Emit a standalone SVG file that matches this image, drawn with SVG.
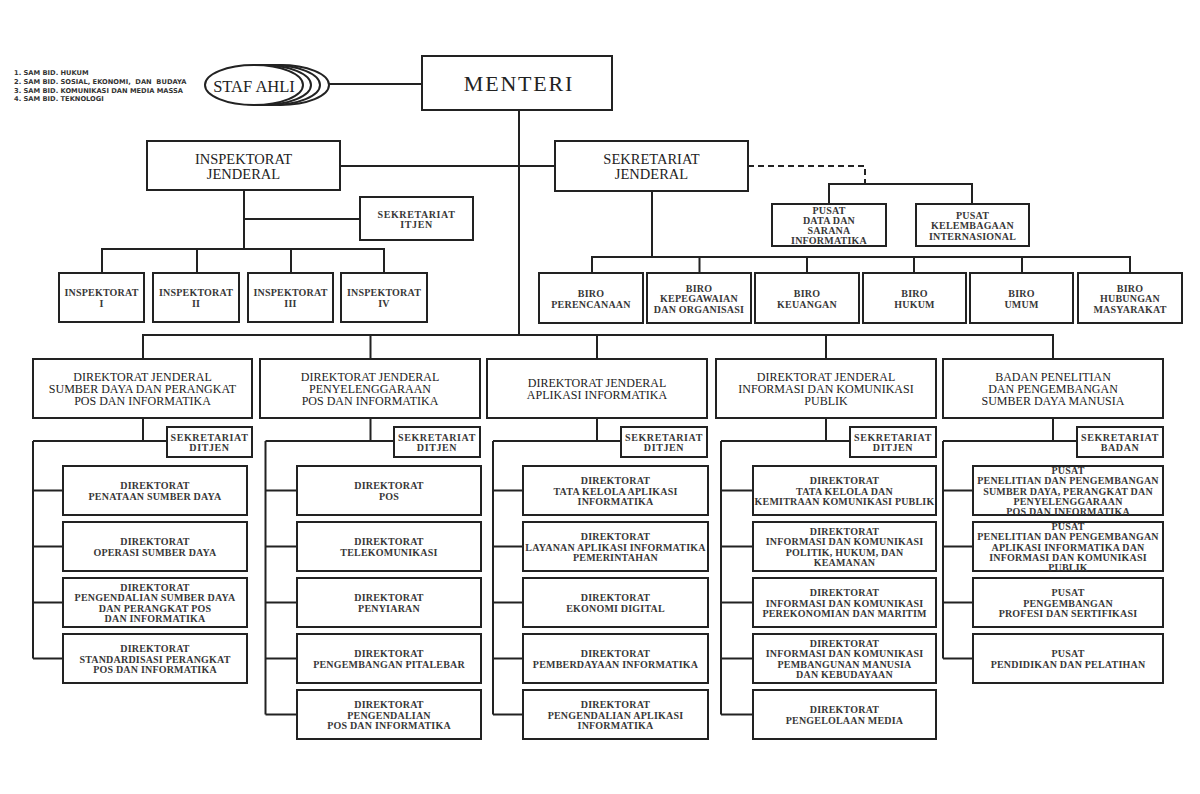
<svg xmlns="http://www.w3.org/2000/svg" width="1200" height="794" viewBox="0 0 1200 794">
<style>
.bx{fill:#fff;stroke:#222;stroke-width:2}
.c{fill:none;stroke:#222;stroke-width:2}
.d{fill:none;stroke:#222;stroke-width:2;stroke-dasharray:6 4}
text{font-family:"Liberation Serif","Times New Roman",serif;fill:#222;text-anchor:middle;dominant-baseline:central}
.big{font-size:22px;letter-spacing:1.8px}
.lg{font-size:14.5px}
.hd{font-size:12px}
.sm{font-size:10px;font-weight:bold;letter-spacing:0.2px;fill:#383838}
.sk{font-size:10px;font-weight:bold;letter-spacing:0.6px;fill:#383838}
.leg{font-family:"DejaVu Sans",Verdana,sans-serif;font-size:6.7px;font-weight:bold;text-anchor:start;fill:#333}
.sa{font-size:16.5px}
.el{fill:#fff;stroke:#222;stroke-width:2}
</style>
<rect width="1200" height="794" fill="#fff"/>

<g id="connectors">
<path class="c" d="M329 84H422"/>
<path class="c" d="M519 110V335"/>
<path class="c" d="M340 166H555"/>
<path class="d" d="M748 166H865V184"/>
<path class="c" d="M829 204V184H972V204"/>
<path class="c" d="M652 191V257"/>
<path class="c" d="M592 273V257H1130V273M699.5 257V273M807 257V273M914 257V273M1022 257V273"/>
<path class="c" d="M244 190V249M244 219H360M102 273V249H384V273M197 249V273M291 249V273"/>
<path class="c" d="M143 359V335H1053V359M370.5 335V359M597 335V359M826 335V359"/>
<path class="c" d="M143 418V441M33 441H167M33 441V658.5M33 490.5H63M33 546.5H63M33 602.5H63M33 658.5H63"/>
<path class="c" d="M370.5 418V441M265.5 441H394M265.5 441V714.5M265.5 490.5H297M265.5 546.5H297M265.5 602.5H297M265.5 658.5H297M265.5 714.5H297"/>
<path class="c" d="M597 418V441M493 441H621M493 441V714.5M493 490.5H523M493 546.5H523M493 602.5H523M493 658.5H523M493 714.5H523"/>
<path class="c" d="M826 418V441M721 441H850M721 441V714.5M721 490.5H753M721 546.5H753M721 602.5H753M721 658.5H753M721 714.5H753"/>
<path class="c" d="M1053 418V441M943 441H1077M943 441V658.5M943 490.5H973M943 546.5H973M943 602.5H973M943 658.5H973"/>
</g>

<g id="legend">
<text class="leg" x="14" y="73">1. SAM BID. HUKUM</text>
<text class="leg" x="14" y="82" xml:space="preserve">2. SAM BID. SOSIAL, EKONOMI,  DAN  BUDAYA</text>
<text class="leg" x="14" y="90.5">3. SAM BID. KOMUNIKASI DAN MEDIA MASSA</text>
<text class="leg" x="14" y="99">4. SAM BID. TEKNOLOGI</text>
</g>

<g id="staf-ahli">
<ellipse class="el" cx="280" cy="85" rx="49" ry="20"/>
<ellipse class="el" cx="271" cy="85" rx="49" ry="20"/>
<ellipse class="el" cx="262" cy="85" rx="49" ry="20"/>
<ellipse class="el" cx="254" cy="85" rx="49" ry="20"/>
<text class="sa" x="254" y="86">STAF AHLI</text>
</g>

<g id="menteri">
<rect class="bx" x="422" y="56" width="190" height="54"/>
<text class="big" x="519" y="83.5">MENTERI</text>
</g>

<g id="itjen">
<rect class="bx" x="147" y="141" width="193" height="49"/>
<text class="lg" x="243.5"><tspan x="243.5" y="159">INSPEKTORAT</tspan><tspan x="243.5" y="173.5">JENDERAL</tspan></text>
</g>

<g id="setjen">
<rect class="bx" x="555" y="141" width="193" height="50"/>
<text class="lg" x="651.5"><tspan x="651.5" y="159">SEKRETARIAT</tspan><tspan x="651.5" y="173.5">JENDERAL</tspan></text>
</g>

<g id="sek-itjen">
<rect class="bx" x="360" y="197" width="113" height="43"/>
<text class="sk"><tspan x="416.5" y="213.5">SEKRETARIAT</tspan><tspan x="416.5" y="224">ITJEN</tspan></text>
</g>

<g id="insp-1"><rect class="bx" x="59" y="273" width="85" height="49"/><text class="sm"><tspan x="101.5" y="292">INSPEKTORAT</tspan><tspan x="101.5" y="302.5">I</tspan></text></g>
<g id="insp-2"><rect class="bx" x="153" y="273" width="86" height="49"/><text class="sm"><tspan x="196" y="292">INSPEKTORAT</tspan><tspan x="196" y="302.5">II</tspan></text></g>
<g id="insp-3"><rect class="bx" x="248" y="273" width="85" height="49"/><text class="sm"><tspan x="290.5" y="292">INSPEKTORAT</tspan><tspan x="290.5" y="302.5">III</tspan></text></g>
<g id="insp-4"><rect class="bx" x="341" y="273" width="86" height="49"/><text class="sm"><tspan x="384" y="292">INSPEKTORAT</tspan><tspan x="384" y="302.5">IV</tspan></text></g>

<g id="pusat-data"><rect class="bx" x="772" y="204" width="114" height="42"/><text class="sm"><tspan x="829" y="210">PUSAT</tspan><tspan x="829" y="220">DATA DAN</tspan><tspan x="829" y="230">SARANA</tspan><tspan x="829" y="240">INFORMATIKA</tspan></text></g>
<g id="pusat-kelembagaan"><rect class="bx" x="916" y="204" width="113" height="42"/><text class="sm"><tspan x="972.5" y="214.5">PUSAT</tspan><tspan x="972.5" y="225">KELEMBAGAAN</tspan><tspan x="972.5" y="235.5">INTERNASIONAL</tspan></text></g>

<g id="biro-perencanaan"><rect class="bx" x="539" y="273" width="104" height="50"/><text class="sm"><tspan x="591" y="293">BIRO</tspan><tspan x="591" y="303.5">PERENCANAAN</tspan></text></g>
<g id="biro-kepegawaian"><rect class="bx" x="647" y="273" width="104" height="50"/><text class="sm"><tspan x="699" y="287.5">BIRO</tspan><tspan x="699" y="298">KEPEGAWAIAN</tspan><tspan x="699" y="308.5">DAN ORGANISASI</tspan></text></g>
<g id="biro-keuangan"><rect class="bx" x="755" y="273" width="104" height="50"/><text class="sm"><tspan x="807" y="293">BIRO</tspan><tspan x="807" y="303.5">KEUANGAN</tspan></text></g>
<g id="biro-hukum"><rect class="bx" x="863" y="273" width="103" height="50"/><text class="sm"><tspan x="914.5" y="293">BIRO</tspan><tspan x="914.5" y="303.5">HUKUM</tspan></text></g>
<g id="biro-umum"><rect class="bx" x="970" y="273" width="103" height="50"/><text class="sm"><tspan x="1021.5" y="293">BIRO</tspan><tspan x="1021.5" y="303.5">UMUM</tspan></text></g>
<g id="biro-humas"><rect class="bx" x="1078" y="273" width="104" height="50"/><text class="sm"><tspan x="1130" y="287.5">BIRO</tspan><tspan x="1130" y="298">HUBUNGAN</tspan><tspan x="1130" y="308.5">MASYARAKAT</tspan></text></g>

<!-- Column 1 -->
<g id="dj-sdppi"><rect class="bx" x="33" y="359" width="219" height="59"/><text class="hd"><tspan x="142.5" y="376.5">DIREKTORAT JENDERAL</tspan><tspan x="142.5" y="388.5">SUMBER DAYA DAN PERANGKAT</tspan><tspan x="142.5" y="400.5">POS DAN INFORMATIKA</tspan></text></g>
<g id="sek-sdppi"><rect class="bx" x="167" y="427" width="85" height="30"/><text class="sk"><tspan x="209.5" y="437">SEKRETARIAT</tspan><tspan x="209.5" y="447">DITJEN</tspan></text></g>
<g id="dit-penataan-sd"><rect class="bx" x="63" y="466" width="184" height="49"/><text class="sm"><tspan x="155" y="485.25">DIREKTORAT</tspan><tspan x="155" y="495.75">PENATAAN SUMBER DAYA</tspan></text></g>
<g id="dit-operasi-sd"><rect class="bx" x="63" y="522" width="184" height="49"/><text class="sm"><tspan x="155" y="541.25">DIREKTORAT</tspan><tspan x="155" y="551.75">OPERASI SUMBER DAYA</tspan></text></g>
<g id="dit-pengendalian-sdppi"><rect class="bx" x="63" y="578" width="184" height="49"/><text class="sm"><tspan x="155" y="586.75">DIREKTORAT</tspan><tspan x="155" y="597.25">PENGENDALIAN SUMBER DAYA</tspan><tspan x="155" y="607.75">DAN PERANGKAT POS</tspan><tspan x="155" y="618.25">DAN INFORMATIKA</tspan></text></g>
<g id="dit-standardisasi"><rect class="bx" x="63" y="634" width="184" height="49"/><text class="sm"><tspan x="155" y="648">DIREKTORAT</tspan><tspan x="155" y="658.5">STANDARDISASI PERANGKAT</tspan><tspan x="155" y="669">POS DAN INFORMATIKA</tspan></text></g>

<!-- Column 2 -->
<g id="dj-ppi"><rect class="bx" x="260" y="359" width="220" height="59"/><text class="hd"><tspan x="370" y="376.5">DIREKTORAT JENDERAL</tspan><tspan x="370" y="388.5">PENYELENGGARAAN</tspan><tspan x="370" y="400.5">POS DAN INFORMATIKA</tspan></text></g>
<g id="sek-ppi"><rect class="bx" x="394" y="427" width="86" height="30"/><text class="sk"><tspan x="437" y="437">SEKRETARIAT</tspan><tspan x="437" y="447">DITJEN</tspan></text></g>
<g id="dit-pos"><rect class="bx" x="297" y="466" width="184" height="49"/><text class="sm"><tspan x="389" y="485.25">DIREKTORAT</tspan><tspan x="389" y="495.75">POS</tspan></text></g>
<g id="dit-telekomunikasi"><rect class="bx" x="297" y="522" width="184" height="49"/><text class="sm"><tspan x="389" y="541.25">DIREKTORAT</tspan><tspan x="389" y="551.75">TELEKOMUNIKASI</tspan></text></g>
<g id="dit-penyiaran"><rect class="bx" x="297" y="578" width="184" height="49"/><text class="sm"><tspan x="389" y="597.25">DIREKTORAT</tspan><tspan x="389" y="607.75">PENYIARAN</tspan></text></g>
<g id="dit-pitalebar"><rect class="bx" x="297" y="634" width="184" height="49"/><text class="sm"><tspan x="389" y="653.25">DIREKTORAT</tspan><tspan x="389" y="663.75">PENGEMBANGAN PITALEBAR</tspan></text></g>
<g id="dit-pengendalian-ppi"><rect class="bx" x="297" y="690" width="184" height="49"/><text class="sm"><tspan x="389" y="704">DIREKTORAT</tspan><tspan x="389" y="714.5">PENGENDALIAN</tspan><tspan x="389" y="725">POS DAN INFORMATIKA</tspan></text></g>

<!-- Column 3 -->
<g id="dj-aptika"><rect class="bx" x="487" y="359" width="220" height="59"/><text class="hd"><tspan x="597" y="382.5">DIREKTORAT JENDERAL</tspan><tspan x="597" y="394.5">APLIKASI INFORMATIKA</tspan></text></g>
<g id="sek-aptika"><rect class="bx" x="621" y="427" width="86" height="30"/><text class="sk"><tspan x="664" y="437">SEKRETARIAT</tspan><tspan x="664" y="447">DITJEN</tspan></text></g>
<g id="dit-tata-kelola-aptika"><rect class="bx" x="523" y="466" width="185" height="49"/><text class="sm"><tspan x="615.5" y="480">DIREKTORAT</tspan><tspan x="615.5" y="490.5">TATA KELOLA APLIKASI</tspan><tspan x="615.5" y="501">INFORMATIKA</tspan></text></g>
<g id="dit-layanan-aptika"><rect class="bx" x="523" y="522" width="185" height="49"/><text class="sm"><tspan x="615.5" y="536">DIREKTORAT</tspan><tspan x="615.5" y="546.5">LAYANAN APLIKASI INFORMATIKA</tspan><tspan x="615.5" y="557">PEMERINTAHAN</tspan></text></g>
<g id="dit-ekonomi-digital"><rect class="bx" x="523" y="578" width="185" height="49"/><text class="sm"><tspan x="615.5" y="597.25">DIREKTORAT</tspan><tspan x="615.5" y="607.75">EKONOMI DIGITAL</tspan></text></g>
<g id="dit-pemberdayaan"><rect class="bx" x="523" y="634" width="185" height="49"/><text class="sm"><tspan x="615.5" y="653.25">DIREKTORAT</tspan><tspan x="615.5" y="663.75">PEMBERDAYAAN INFORMATIKA</tspan></text></g>
<g id="dit-pengendalian-aptika"><rect class="bx" x="523" y="690" width="185" height="49"/><text class="sm"><tspan x="615.5" y="704">DIREKTORAT</tspan><tspan x="615.5" y="714.5">PENGENDALIAN APLIKASI</tspan><tspan x="615.5" y="725">INFORMATIKA</tspan></text></g>

<!-- Column 4 -->
<g id="dj-ikp"><rect class="bx" x="716" y="359" width="220" height="59"/><text class="hd"><tspan x="826" y="376.5">DIREKTORAT JENDERAL</tspan><tspan x="826" y="388.5">INFORMASI DAN KOMUNIKASI</tspan><tspan x="826" y="400.5">PUBLIK</tspan></text></g>
<g id="sek-ikp"><rect class="bx" x="850" y="427" width="86" height="30"/><text class="sk"><tspan x="893" y="437">SEKRETARIAT</tspan><tspan x="893" y="447">DITJEN</tspan></text></g>
<g id="dit-tata-kelola-ikp"><rect class="bx" x="753" y="466" width="183" height="49"/><text class="sm"><tspan x="844.5" y="480">DIREKTORAT</tspan><tspan x="844.5" y="490.5">TATA KELOLA DAN</tspan><tspan x="844.5" y="501">KEMITRAAN KOMUNIKASI PUBLIK</tspan></text></g>
<g id="dit-ikp-polhukam"><rect class="bx" x="753" y="522" width="183" height="49"/><text class="sm"><tspan x="844.5" y="530.75">DIREKTORAT</tspan><tspan x="844.5" y="541.25">INFORMASI DAN KOMUNIKASI</tspan><tspan x="844.5" y="551.75">POLITIK, HUKUM, DAN</tspan><tspan x="844.5" y="562.25">KEAMANAN</tspan></text></g>
<g id="dit-ikp-perekonomian"><rect class="bx" x="753" y="578" width="183" height="49"/><text class="sm"><tspan x="844.5" y="592">DIREKTORAT</tspan><tspan x="844.5" y="602.5">INFORMASI DAN KOMUNIKASI</tspan><tspan x="844.5" y="613">PEREKONOMIAN DAN MARITIM</tspan></text></g>
<g id="dit-ikp-pmk"><rect class="bx" x="753" y="634" width="183" height="49"/><text class="sm"><tspan x="844.5" y="642.75">DIREKTORAT</tspan><tspan x="844.5" y="653.25">INFORMASI DAN KOMUNIKASI</tspan><tspan x="844.5" y="663.75">PEMBANGUNAN MANUSIA</tspan><tspan x="844.5" y="674.25">DAN KEBUDAYAAN</tspan></text></g>
<g id="dit-pengelolaan-media"><rect class="bx" x="753" y="690" width="183" height="49"/><text class="sm"><tspan x="844.5" y="709.25">DIREKTORAT</tspan><tspan x="844.5" y="719.75">PENGELOLAAN MEDIA</tspan></text></g>

<!-- Column 5 -->
<g id="balitbang-sdm"><rect class="bx" x="943" y="359" width="220" height="59"/><text class="hd"><tspan x="1053" y="376.5">BADAN PENELITIAN</tspan><tspan x="1053" y="388.5">DAN PENGEMBANGAN</tspan><tspan x="1053" y="400.5">SUMBER DAYA MANUSIA</tspan></text></g>
<g id="sek-badan"><rect class="bx" x="1077" y="427" width="86" height="30"/><text class="sk"><tspan x="1120" y="437">SEKRETARIAT</tspan><tspan x="1120" y="447">BADAN</tspan></text></g>
<g id="pusat-litbang-sdppi"><rect class="bx" x="973" y="466" width="190" height="49"/><text class="sm"><tspan x="1068" y="470.1">PUSAT</tspan><tspan x="1068" y="480.3">PENELITIAN DAN PENGEMBANGAN</tspan><tspan x="1068" y="490.5">SUMBER DAYA, PERANGKAT DAN</tspan><tspan x="1068" y="500.7">PENYELENGGARAAN</tspan><tspan x="1068" y="510.9">POS DAN INFORMATIKA</tspan></text></g>
<g id="pusat-litbang-aptika-ikp"><rect class="bx" x="973" y="522" width="190" height="49"/><text class="sm"><tspan x="1068" y="526.1">PUSAT</tspan><tspan x="1068" y="536.3">PENELITIAN DAN PENGEMBANGAN</tspan><tspan x="1068" y="546.5">APLIKASI INFORMATIKA DAN</tspan><tspan x="1068" y="556.7">INFORMASI DAN KOMUNIKASI</tspan><tspan x="1068" y="566.9">PUBLIK</tspan></text></g>
<g id="pusat-profesi"><rect class="bx" x="973" y="578" width="190" height="49"/><text class="sm"><tspan x="1068" y="592">PUSAT</tspan><tspan x="1068" y="602.5">PENGEMBANGAN</tspan><tspan x="1068" y="613">PROFESI DAN SERTIFIKASI</tspan></text></g>
<g id="pusat-diklat"><rect class="bx" x="973" y="634" width="190" height="49"/><text class="sm"><tspan x="1068" y="653.25">PUSAT</tspan><tspan x="1068" y="663.75">PENDIDIKAN DAN PELATIHAN</tspan></text></g>
</svg>
